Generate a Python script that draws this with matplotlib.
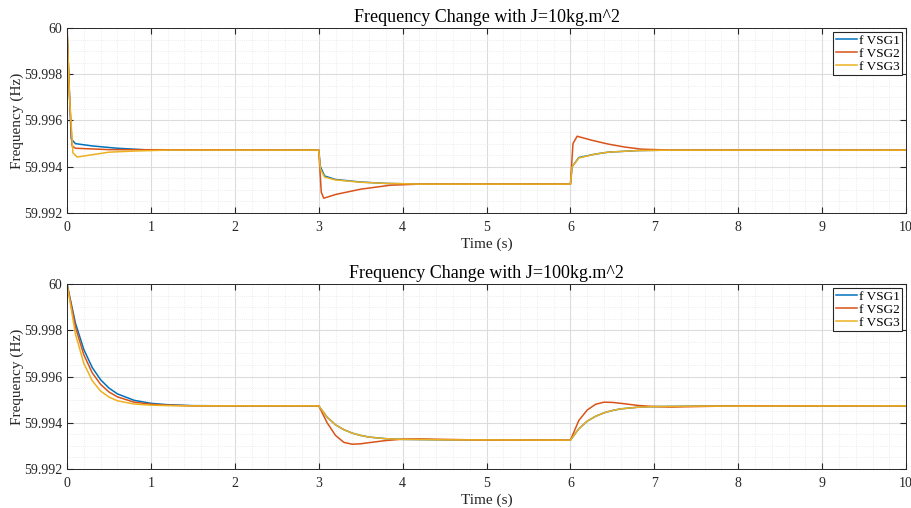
import matplotlib
matplotlib.use("Agg")
import matplotlib.pyplot as plt
from matplotlib.ticker import MultipleLocator

plt.rcParams['font.family'] = ['Liberation Serif', 'DejaVu Serif']

# J = 10 kg.m^2 (top panel), readings taken from the chart
t1_vsg1 = [0, 0.02, 0.05, 0.1, 0.3, 0.6, 1.0, 3.0, 3.02, 3.07, 3.2, 3.5, 3.8, 4.2, 6.0, 6.02, 6.1, 6.3, 6.45, 6.8, 7.2, 10]
f1_vsg1 = [60, 59.998, 59.9952, 59.99500, 59.99490, 59.99480, 59.99472, 59.99472, 59.99400, 59.99360,
           59.99345, 59.99334, 59.99328, 59.99325, 59.99325, 59.99400, 59.99440, 59.99455, 59.99463,
           59.99470, 59.99472, 59.99472]
t1_vsg2 = [0, 0.03, 0.06, 0.1, 0.5, 3.0, 3.03, 3.06, 3.2, 3.5, 3.85, 4.2, 6.0, 6.03, 6.08, 6.25,
           6.45, 6.65, 6.85, 7.2, 10]
f1_vsg2 = [60, 59.997, 59.9949, 59.99480, 59.99474, 59.99472, 59.99290, 59.99264, 59.99280,
           59.99303, 59.99320, 59.99325, 59.99325, 59.99500, 59.99532, 59.99515, 59.99498,
           59.99485, 59.99476, 59.99472, 59.99472]
t1_vsg3 = [0, 0.03, 0.07, 0.12, 0.3, 0.5, 0.8, 1.2, 3.0, 3.02, 3.07, 3.2, 3.5, 3.8, 4.2, 6.0, 6.02,
           6.1, 6.3, 6.45, 6.8, 7.2, 10]
f1_vsg3 = [60, 59.997, 59.9946, 59.99442, 59.99452, 59.99463, 59.99468, 59.99472, 59.99472, 59.99390,
           59.99355, 59.99343, 59.99333, 59.99328, 59.99325, 59.99325, 59.99400, 59.99438, 59.99455,
           59.99463, 59.99470, 59.99472, 59.99472]

# J = 100 kg.m^2 (bottom panel)
t2_vsg1 = [0, 0.1, 0.2, 0.3, 0.4, 0.5, 0.6, 0.8, 1.0, 1.2, 1.5, 2.0, 3.0, 3.1, 3.2, 3.3, 3.4, 3.5,
           3.6, 3.8, 4.0, 4.5, 6.0, 6.1, 6.2, 6.3, 6.4, 6.5, 6.6, 6.8, 7.0, 7.5, 10]
f2_vsg1 = [60, 59.99831, 59.99717, 59.99639, 59.99586, 59.99550, 59.99525, 59.99497, 59.99484,
           59.99478, 59.99474, 59.99473, 59.99473, 59.99424, 59.99391, 59.99370, 59.99355, 59.99345,
           59.99338, 59.99331, 59.99328, 59.99326, 59.99325, 59.99374, 59.99407, 59.99428, 59.99443,
           59.99453, 59.99460, 59.99467, 59.99470, 59.99472, 59.99473]
t2_vsg2 = [0, 0.1, 0.2, 0.3, 0.4, 0.5, 0.6, 0.8, 1.0, 1.2, 1.5, 3.0, 3.1, 3.2, 3.3, 3.4, 3.5, 3.6,
           3.8, 4.0, 4.2, 4.5, 5.0, 6.0, 6.1, 6.2, 6.3, 6.4, 6.5, 6.6, 6.8, 7.0, 7.2, 7.5, 8.0, 10]
f2_vsg2 = [60, 59.99814, 59.99694, 59.99616, 59.99566, 59.99533, 59.99512, 59.99489, 59.99480,
           59.99476, 59.99473, 59.99473, 59.99400, 59.99345, 59.99315, 59.99307, 59.99309, 59.99314,
           59.99323, 59.99329, 59.99330, 59.99328, 59.99325, 59.99325, 59.99410, 59.99455, 59.99480,
           59.99489, 59.99488, 59.99484, 59.99475, 59.99470, 59.99468, 59.99470, 59.99473, 59.99473]
t2_vsg3 = [0, 0.1, 0.2, 0.3, 0.4, 0.5, 0.6, 0.8, 1.0, 1.2, 1.5, 3.0, 3.1, 3.2, 3.3, 3.4, 3.5, 3.6,
           3.8, 4.0, 4.5, 6.0, 6.1, 6.2, 6.3, 6.4, 6.5, 6.6, 6.8, 7.0, 7.5, 10]
f2_vsg3 = [60, 59.99784, 59.99657, 59.99582, 59.99537, 59.99511, 59.99495, 59.99481, 59.99476,
           59.99474, 59.99473, 59.99473, 59.99424, 59.99391, 59.99370, 59.99355, 59.99345, 59.99338,
           59.99331, 59.99328, 59.99326, 59.99325, 59.99374, 59.99407, 59.99428, 59.99443, 59.99453,
           59.99460, 59.99467, 59.99470, 59.99472, 59.99473]

labels = ["f VSG1", "f VSG2", "f VSG3"]
colors = ["#0072BD", "#D95319", "#EDB120"]
yticks = [59.992, 59.994, 59.996, 59.998, 60]
ytick_labels = ["59.992", "59.994", "59.996", "59.998", "60"]

fig = plt.figure(figsize=(9.12, 5.08), dpi=100)
ax1 = fig.add_axes([0.0735, 0.5807, 0.92, 0.3642])
ax2 = fig.add_axes([0.0735, 0.0768, 0.92, 0.3641])


def draw(ax, series, title):
    for (t, f), lab, c in zip(series, labels, colors):
        ax.plot(t, f, color=c, lw=1.1, label=lab)
    ax.set_xlim(0, 10)
    ax.set_ylim(59.992, 60)
    ax.set_xticks(range(11))
    ax.set_yticks(yticks)
    ax.set_yticklabels(ytick_labels)
    ax.xaxis.set_minor_locator(MultipleLocator(0.2))
    ax.yaxis.set_minor_locator(MultipleLocator(0.0005))
    ax.grid(True, which='major', color='#dcdcdc', lw=0.8)
    ax.grid(True, which='minor', color='#e6e6e6', lw=0.6, ls=':')
    ax.set_axisbelow(True)
    ax.tick_params(which='major', direction='in', top=True, right=True, length=4,
                   labelsize=10, colors='#262626', width=0.8)
    ax.tick_params(axis='x', which='major', pad=6)
    ax.tick_params(which='minor', length=0)
    for sp in ax.spines.values():
        sp.set_color('#262626')
        sp.set_linewidth(0.7)
    ax.set_title(title, fontsize=13, pad=4, color='black')
    ax.set_xlabel("Time (s)", fontsize=11, labelpad=2, color='#262626')
    ax.set_ylabel("Frequency (Hz)", fontsize=11, labelpad=0, color='#262626')
    leg = ax.legend(loc='upper right', fontsize=9.5, handlelength=1.6, handletextpad=0.15,
                    borderpad=0.2, labelspacing=0.05, borderaxespad=0.3, fancybox=False,
                    framealpha=1)
    leg.get_frame().set_edgecolor('#262626')
    leg.get_frame().set_linewidth(0.8)


draw(ax1, [(t1_vsg1, f1_vsg1), (t1_vsg2, f1_vsg2), (t1_vsg3, f1_vsg3)],
     "Frequency Change with J=10kg.m^2")
draw(ax2, [(t2_vsg1, f2_vsg1), (t2_vsg2, f2_vsg2), (t2_vsg3, f2_vsg3)],
     "Frequency Change with J=100kg.m^2")

fig.savefig("out.png", dpi=100)
